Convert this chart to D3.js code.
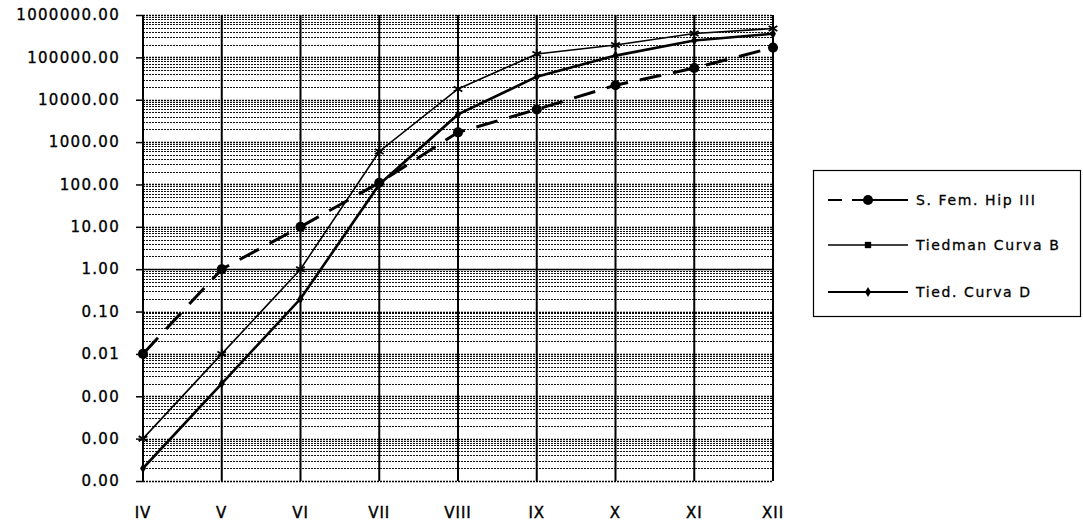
<!DOCTYPE html>
<html>
<head>
  <meta charset="UTF-8">
  <title>Curvas</title>
  <script src="https://d3js.org/d3.v7.min.js"></script>
  <style>
    body { margin: 0; background: #fff; }
    text { font-family: "DejaVu Sans", sans-serif; fill: #000; }
  </style>
</head>
<body>
<svg id="chart" width="1083" height="523"></svg>
<script>
// categories (x axis)
var stages = ["IV", "V", "VI", "VII", "VIII", "IX", "X", "XI", "XII"];
// series values
var sFemHip = [0.01, 1, 10, 110, 1700, 5900, 22000, 56000, 170000];
var curvaB  = [0.0001, 0.01, 1, 600, 18000, 120000, 195000, 365000, 480000];
var curvaD  = [0.00002, 0.002, 0.2, 100, 4500, 35000, 110000, 250000, 360000];
var seriesNames = ["S. Fem. Hip III", "Tiedman Curva B", "Tied. Curva D"];
// y tick values (decades)
var yTicks = [1e6, 1e5, 1e4, 1e3, 100, 10, 1, 0.1, 0.01, 0.001, 0.0001, 0.00001];

var svg = d3.select("#chart");
var plot = {left: 143, right: 773, top: 15, bottom: 481};

var x = d3.scalePoint().domain(stages).range([plot.left, plot.right]);
var y = d3.scaleLog().domain([1e-5, 1e6]).range([plot.bottom, plot.top]);

// minor grid (log 2..9 in every decade), printed as dotted lines
var minor = [];
yTicks.slice(0, -1).forEach(function(t) {
  for (var k = 2; k <= 9; k++) minor.push(t / 10 * k);
});
svg.append("g").attr("class", "minor")
  .selectAll("line").data(minor).enter().append("line")
    .attr("x1", plot.left).attr("x2", plot.right)
    .attr("y1", function(d) { return Math.round(y(d)) + 0.5; })
    .attr("y2", function(d) { return Math.round(y(d)) + 0.5; })
    .attr("stroke", "#111").attr("stroke-width", 1)
    .attr("stroke-dasharray", "2,1");

// major grid
svg.append("g").attr("class", "major")
  .selectAll("line").data(yTicks).enter().append("line")
    .attr("x1", plot.left).attr("x2", plot.right)
    .attr("y1", function(d) { return Math.round(y(d)) + 0.5; })
    .attr("y2", function(d) { return Math.round(y(d)) + 0.5; })
    .attr("stroke", "#000").attr("stroke-width", 1.3)
    .attr("stroke-dasharray", function(d) { return d === 1 ? null : "2,1"; });

// vertical lines at each stage
svg.append("g").attr("class", "vgrid")
  .selectAll("line").data(stages).enter().append("line")
    .attr("x1", function(d) { return x(d); }).attr("x2", function(d) { return x(d); })
    .attr("y1", plot.top).attr("y2", plot.bottom)
    .attr("stroke", "#000").attr("stroke-width", 2);

// y axis
var yAxis = d3.axisLeft(y).tickValues(yTicks).tickSize(7).tickPadding(16)
  .tickFormat(d3.format(".2f"));
var gy = svg.append("g").attr("transform", "translate(" + plot.left + ",0)").call(yAxis);
gy.select(".domain").remove();
gy.selectAll("line").attr("stroke-width", 1.5);
gy.selectAll("text")
  .style("font-size", "15px").style("letter-spacing", "1.3px")
  .attr("stroke", "#000").attr("stroke-width", 0.35);

// x labels
svg.append("g").selectAll("text").data(stages).enter().append("text")
  .attr("x", function(d) { return x(d); }).attr("y", 518)
  .attr("text-anchor", "middle")
  .style("font-size", "15px").style("letter-spacing", "1px")
  .attr("stroke", "#000").attr("stroke-width", 0.4)
  .text(function(d) { return d; });

var line = d3.line().x(function(d, i) { return x(stages[i]); }).y(function(d) { return y(d); });

// series
svg.append("path").datum(sFemHip).attr("d", line)
  .attr("fill", "none").attr("stroke", "#000").attr("stroke-width", 3)
  .attr("stroke-dasharray", "22,12");
svg.append("path").datum(curvaB).attr("d", line)
  .attr("fill", "none").attr("stroke", "#000").attr("stroke-width", 1.6);
svg.append("path").datum(curvaD).attr("d", line)
  .attr("fill", "none").attr("stroke", "#000").attr("stroke-width", 2.6);

var star = d3.symbol().type(d3.symbolAsterisk || d3.symbolCross).size(70);
var dot = d3.symbol().type(d3.symbolCircle).size(80);
var dia = d3.symbol().type(d3.symbolDiamond).size(30);

svg.append("g").selectAll("path").data(sFemHip).enter().append("path")
  .attr("transform", function(d, i) { return "translate(" + x(stages[i]) + "," + y(d) + ")"; })
  .attr("d", dot).attr("fill", "#000");
svg.append("g").selectAll("path").data(curvaB).enter().append("path")
  .attr("transform", function(d, i) { return "translate(" + x(stages[i]) + "," + y(d) + ")"; })
  .attr("d", star).attr("fill", "none").attr("stroke", "#000").attr("stroke-width", 1.8);
svg.append("g").selectAll("path").data(curvaD).enter().append("path")
  .attr("transform", function(d, i) { return "translate(" + x(stages[i]) + "," + y(d) + ")"; })
  .attr("d", dia).attr("fill", "#000");

// legend
var lg = svg.append("g").attr("class", "legend");
lg.append("rect").attr("x", 813.5).attr("y", 170.5).attr("width", 267).attr("height", 146)
  .attr("fill", "#fff").attr("stroke", "#000").attr("stroke-width", 1.2);
var rowsY = [200, 245, 292];
seriesNames.forEach(function(name, i) {
  var ly = rowsY[i];
  var seg = lg.append("line").attr("x1", 828).attr("x2", 908).attr("y1", ly).attr("y2", ly)
    .attr("stroke", "#000").attr("stroke-width", i === 1 ? 1.3 : 2);
  if (i === 0) seg.attr("stroke-dasharray", "14,10,60");
  var sym = i === 0 ? dot : (i === 1 ? d3.symbol().type(d3.symbolSquare).size(40) : dia);
  lg.append("path").attr("transform", "translate(868," + ly + ")").attr("d", sym).attr("fill", "#000");
  lg.append("text").attr("x", 916).attr("y", ly + 5)
    .style("font-size", "14px").style("letter-spacing", "1.6px")
    .attr("stroke", "#000").attr("stroke-width", 0.3)
    .text(name);
});
</script>
</body>
</html>
